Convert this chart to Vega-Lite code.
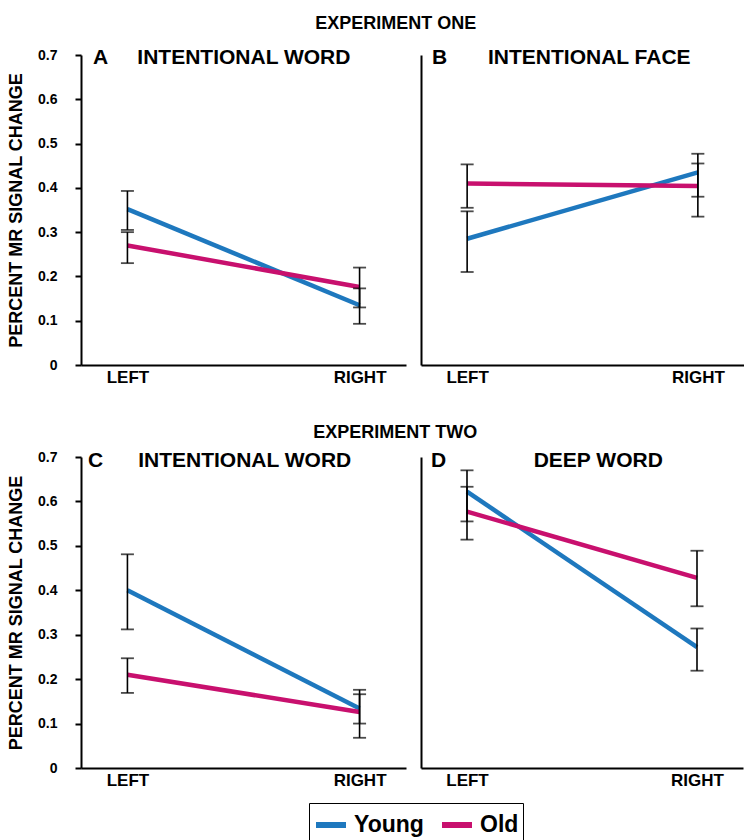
{
  "$schema": "https://vega.github.io/schema/vega-lite/v6.json",
  "padding": {"left": 7, "top": 15, "right": 0, "bottom": 0},
  "background": "white",
  "config": {
    "font": "Liberation Sans",
    "view": {"stroke": null},
    "axis": {"domainColor": "black", "domainWidth": 2, "tickColor": "black", "labelColor": "black", "titleColor": "black", "labelFontWeight": "bold", "titleFontWeight": "bold", "grid": false},
    "title": {"fontWeight": "bold", "color": "black"},
    "legend": {"labelColor": "black"}
  },
  "data": {"values": [
    {"panel": "A", "side": "LEFT", "group": "Young", "mean": 0.352, "lo": 0.305, "hi": 0.393},
    {"panel": "A", "side": "LEFT", "group": "Old", "mean": 0.270, "lo": 0.230, "hi": 0.300},
    {"panel": "A", "side": "RIGHT", "group": "Young", "mean": 0.135, "lo": 0.093, "hi": 0.173},
    {"panel": "A", "side": "RIGHT", "group": "Old", "mean": 0.176, "lo": 0.130, "hi": 0.220},
    {"panel": "B", "side": "LEFT", "group": "Young", "mean": 0.285, "lo": 0.210, "hi": 0.347},
    {"panel": "B", "side": "LEFT", "group": "Old", "mean": 0.410, "lo": 0.355, "hi": 0.453},
    {"panel": "B", "side": "RIGHT", "group": "Young", "mean": 0.435, "lo": 0.380, "hi": 0.477},
    {"panel": "B", "side": "RIGHT", "group": "Old", "mean": 0.404, "lo": 0.335, "hi": 0.455},
    {"panel": "C", "side": "LEFT", "group": "Young", "mean": 0.400, "lo": 0.312, "hi": 0.481},
    {"panel": "C", "side": "LEFT", "group": "Old", "mean": 0.210, "lo": 0.169, "hi": 0.247},
    {"panel": "C", "side": "RIGHT", "group": "Young", "mean": 0.134, "lo": 0.100, "hi": 0.166},
    {"panel": "C", "side": "RIGHT", "group": "Old", "mean": 0.126, "lo": 0.068, "hi": 0.176},
    {"panel": "D", "side": "LEFT", "group": "Young", "mean": 0.622, "lo": 0.555, "hi": 0.670},
    {"panel": "D", "side": "LEFT", "group": "Old", "mean": 0.577, "lo": 0.514, "hi": 0.633},
    {"panel": "D", "side": "RIGHT", "group": "Young", "mean": 0.272, "lo": 0.219, "hi": 0.314},
    {"panel": "D", "side": "RIGHT", "group": "Old", "mean": 0.428, "lo": 0.364, "hi": 0.489}
  ]},
  "resolve": {"scale": {"color": "shared"}, "legend": {"color": "shared"}},
  "spacing": 39,
  "vconcat": [
    {
      "title": {"text": "EXPERIMENT ONE", "fontSize": 18, "anchor": "middle", "offset": 14, "dx": 20},
      "spacing": 15,
      "resolve": {"scale": {"color": "shared"}, "legend": {"color": "shared"}},
      "hconcat": [
        {
          "width": 325, "height": 310,
          "title": {"text": "A\u00a0\u00a0\u00a0\u00a0\u00a0INTENTIONAL WORD", "fontSize": 21, "anchor": "start", "frame": "group", "dx": 12, "baseline": "middle", "offset": -31},
          "transform": [{"filter": "datum.panel == 'A'"}],
          "encoding": {"x": {"field": "side", "type": "nominal", "scale": {"type": "point", "domain": ["LEFT", "RIGHT"], "padding": 0.2}, "axis": {"title": null, "labelAngle": 0, "ticks": false, "labelFontSize": 17, "labelPadding": 4}}},
          "layer": [
            {"mark": {"type": "line", "strokeWidth": 4.5}, "encoding": {
              "y": {"field": "mean", "type": "quantitative", "scale": {"domain": [0, 0.7], "nice": false}, "axis": {"title": "PERCENT MR SIGNAL CHANGE", "titleFontSize": 18, "values": [0, 0.1, 0.2, 0.3, 0.4, 0.5, 0.6, 0.7], "labelExpr": "datum.value == 0 ? '0' : format(datum.value, '.1f')", "tickSize": 6, "tickWidth": 2, "labelFontSize": 14, "labelPadding": 18, "titlePadding": 12}},
              "color": {"field": "group", "type": "nominal", "scale": {"domain": ["Young", "Old"], "range": ["#1e78be", "#c8106e"]}, "legend": {"orient": "none", "legendX": 228, "legendY": 748, "direction": "horizontal", "title": null, "symbolType": "stroke", "symbolStrokeWidth": 6, "symbolSize": 900, "labelFontSize": 23, "labelFontWeight": "bold", "strokeColor": "black", "padding": 4, "columnPadding": 6, "labelOffset": 5}}
            }},
            {"mark": {"type": "rule", "color": "black", "strokeWidth": 1.6}, "encoding": {"y": {"field": "lo", "type": "quantitative"}, "y2": {"field": "hi"}}},
            {"mark": {"type": "tick", "color": "black", "size": 13, "thickness": 1.8}, "encoding": {"y": {"field": "lo", "type": "quantitative"}}},
            {"mark": {"type": "tick", "color": "black", "size": 13, "thickness": 1.8}, "encoding": {"y": {"field": "hi", "type": "quantitative"}}}
          ]
        },
        {
          "width": 323, "height": 310,
          "title": {"text": "B\u00a0\u00a0\u00a0\u00a0\u00a0\u00a0\u00a0INTENTIONAL FACE", "fontSize": 21, "anchor": "start", "frame": "group", "dx": 11, "baseline": "middle", "offset": -24},
          "transform": [{"filter": "datum.panel == 'B'"}],
          "encoding": {"x": {"field": "side", "type": "nominal", "scale": {"type": "point", "domain": ["LEFT", "RIGHT"], "padding": 0.2}, "axis": {"title": null, "labelAngle": 0, "ticks": false, "labelFontSize": 17, "labelPadding": 4}}},
          "layer": [
            {"mark": {"type": "line", "strokeWidth": 4.5}, "encoding": {
              "y": {"field": "mean", "type": "quantitative", "scale": {"domain": [0, 0.7], "nice": false}, "axis": {"title": null, "labels": false, "ticks": false}},
              "color": {"field": "group", "type": "nominal", "scale": {"domain": ["Young", "Old"], "range": ["#1e78be", "#c8106e"]}, "legend": {"orient": "none", "legendX": 228, "legendY": 748, "direction": "horizontal", "title": null, "symbolType": "stroke", "symbolStrokeWidth": 6, "symbolSize": 900, "labelFontSize": 23, "labelFontWeight": "bold", "strokeColor": "black", "padding": 4, "columnPadding": 6, "labelOffset": 5}}
            }},
            {"mark": {"type": "rule", "color": "black", "strokeWidth": 1.6}, "encoding": {"y": {"field": "lo", "type": "quantitative"}, "y2": {"field": "hi"}}},
            {"mark": {"type": "tick", "color": "black", "size": 13, "thickness": 1.8}, "encoding": {"y": {"field": "lo", "type": "quantitative"}}},
            {"mark": {"type": "tick", "color": "black", "size": 13, "thickness": 1.8}, "encoding": {"y": {"field": "hi", "type": "quantitative"}}}
          ]
        }
      ]
    },
    {
      "title": {"text": "EXPERIMENT TWO", "fontSize": 18, "anchor": "middle", "offset": 8, "dx": 20},
      "spacing": 15,
      "resolve": {"scale": {"color": "shared"}, "legend": {"color": "shared"}},
      "hconcat": [
        {
          "width": 325, "height": 311,
          "title": {"text": "C\u00a0\u00a0\u00a0\u00a0\u00a0\u00a0INTENTIONAL WORD", "fontSize": 21, "anchor": "start", "frame": "group", "dx": 7, "baseline": "middle", "offset": -32},
          "transform": [{"filter": "datum.panel == 'C'"}],
          "encoding": {"x": {"field": "side", "type": "nominal", "scale": {"type": "point", "domain": ["LEFT", "RIGHT"], "padding": 0.2}, "axis": {"title": null, "labelAngle": 0, "ticks": false, "labelFontSize": 17, "labelPadding": 4}}},
          "layer": [
            {"mark": {"type": "line", "strokeWidth": 4.5}, "encoding": {
              "y": {"field": "mean", "type": "quantitative", "scale": {"domain": [0, 0.7], "nice": false}, "axis": {"title": "PERCENT MR SIGNAL CHANGE", "titleFontSize": 18, "values": [0, 0.1, 0.2, 0.3, 0.4, 0.5, 0.6, 0.7], "labelExpr": "datum.value == 0 ? '0' : format(datum.value, '.1f')", "tickSize": 6, "tickWidth": 2, "labelFontSize": 14, "labelPadding": 18, "titlePadding": 12}},
              "color": {"field": "group", "type": "nominal", "scale": {"domain": ["Young", "Old"], "range": ["#1e78be", "#c8106e"]}, "legend": {"orient": "none", "legendX": 228, "legendY": 748, "direction": "horizontal", "title": null, "symbolType": "stroke", "symbolStrokeWidth": 6, "symbolSize": 900, "labelFontSize": 23, "labelFontWeight": "bold", "strokeColor": "black", "padding": 4, "columnPadding": 6, "labelOffset": 5}}
            }},
            {"mark": {"type": "rule", "color": "black", "strokeWidth": 1.6}, "encoding": {"y": {"field": "lo", "type": "quantitative"}, "y2": {"field": "hi"}}},
            {"mark": {"type": "tick", "color": "black", "size": 13, "thickness": 1.8}, "encoding": {"y": {"field": "lo", "type": "quantitative"}}},
            {"mark": {"type": "tick", "color": "black", "size": 13, "thickness": 1.8}, "encoding": {"y": {"field": "hi", "type": "quantitative"}}}
          ]
        },
        {
          "width": 322, "height": 311,
          "title": {"text": "D\u00a0\u00a0\u00a0\u00a0\u00a0\u00a0\u00a0\u00a0\u00a0\u00a0\u00a0\u00a0\u00a0\u00a0\u00a0DEEP WORD", "fontSize": 21, "anchor": "start", "frame": "group", "dx": 10, "baseline": "middle", "offset": -25},
          "transform": [{"filter": "datum.panel == 'D'"}],
          "encoding": {"x": {"field": "side", "type": "nominal", "scale": {"type": "point", "domain": ["LEFT", "RIGHT"], "padding": 0.2}, "axis": {"title": null, "labelAngle": 0, "ticks": false, "labelFontSize": 17, "labelPadding": 4}}},
          "layer": [
            {"mark": {"type": "line", "strokeWidth": 4.5}, "encoding": {
              "y": {"field": "mean", "type": "quantitative", "scale": {"domain": [0, 0.7], "nice": false}, "axis": {"title": null, "labels": false, "ticks": false}},
              "color": {"field": "group", "type": "nominal", "scale": {"domain": ["Young", "Old"], "range": ["#1e78be", "#c8106e"]}, "legend": {"orient": "none", "legendX": 228, "legendY": 748, "direction": "horizontal", "title": null, "symbolType": "stroke", "symbolStrokeWidth": 6, "symbolSize": 900, "labelFontSize": 23, "labelFontWeight": "bold", "strokeColor": "black", "padding": 4, "columnPadding": 6, "labelOffset": 5}}
            }},
            {"mark": {"type": "rule", "color": "black", "strokeWidth": 1.6}, "encoding": {"y": {"field": "lo", "type": "quantitative"}, "y2": {"field": "hi"}}},
            {"mark": {"type": "tick", "color": "black", "size": 13, "thickness": 1.8}, "encoding": {"y": {"field": "lo", "type": "quantitative"}}},
            {"mark": {"type": "tick", "color": "black", "size": 13, "thickness": 1.8}, "encoding": {"y": {"field": "hi", "type": "quantitative"}}}
          ]
        }
      ]
    }
  ]
}
